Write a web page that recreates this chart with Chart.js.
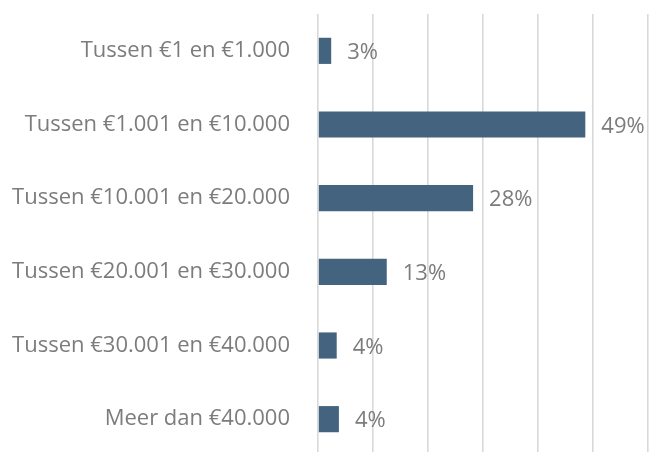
<!DOCTYPE html>
<html>
<head>
<meta charset="utf-8">
<script src="https://cdn.jsdelivr.net/npm/chart.js@4"></script>
<style>
html,body{margin:0;padding:0;background:#fff;overflow:hidden;}
canvas{display:block;}
</style>
</head>
<body>
<canvas id="c" width="649" height="457"></canvas>
<script>
const categories = [
  'Tussen €1 en €1.000',
  'Tussen €1.001 en €10.000',
  'Tussen €10.001 en €20.000',
  'Tussen €20.001 en €30.000',
  'Tussen €30.001 en €40.000',
  'Meer dan €40.000'
];
const values = [2.4, 48.6, 28.2, 12.5, 3.4, 3.8];
const valueLabels = ['3%', '49%', '28%', '13%', '4%', '4%'];
const xTicks = [0, 10, 20, 30, 40, 50, 60];

const FONT = "'Open Sans', 'Noto Sans', sans-serif";
const TEXT = '#7c7c7c';

const valueLabelPlugin = {
  id: 'valueLabels',
  afterDatasetsDraw(chart) {
    const ctx = chart.ctx;
    const meta = chart.getDatasetMeta(0);
    ctx.save();
    ctx.font = '22px ' + FONT;
    ctx.fillStyle = TEXT;
    ctx.textAlign = 'left';
    ctx.textBaseline = 'middle';
    meta.data.forEach((bar, i) => {
      ctx.fillText(valueLabels[i], bar.x + 16, bar.y + 2);
    });
    ctx.restore();
  }
};

new Chart(document.getElementById('c'), {
  type: 'bar',
  data: {
    labels: categories,
    datasets: [{
      data: values,
      backgroundColor: '#43637e',
      borderWidth: 0,
      categoryPercentage: 1,
      barPercentage: 0.355
    }]
  },
  options: {
    indexAxis: 'y',
    responsive: false,
    maintainAspectRatio: false,
    animation: false,
    devicePixelRatio: 1,
    layout: { padding: { left: 0, right: 1, top: 14, bottom: 1 } },
    plugins: { legend: { display: false }, tooltip: { enabled: false } },
    scales: {
      x: {
        min: xTicks[0],
        max: xTicks[xTicks.length - 1],
        afterBuildTicks(scale) { scale.ticks = xTicks.map(v => ({ value: v })); },
        afterFit(scale) { scale.height = 0; scale.paddingLeft = 0; scale.paddingRight = 0; },
        ticks: { display: false },
        grid: { color: '#d9d9d9', lineWidth: 1.6, drawTicks: false },
        border: { display: false }
      },
      y: {
        afterFit(scale) { scale.width = 318; scale.paddingTop = 0; scale.paddingBottom = 0; },
        ticks: {
          color: TEXT,
          font: { family: FONT, size: 22 },
          padding: 28
        },
        grid: { display: false, drawTicks: false },
        border: { display: false }
      }
    }
  },
  plugins: [valueLabelPlugin]
});
</script>
</body>
</html>
